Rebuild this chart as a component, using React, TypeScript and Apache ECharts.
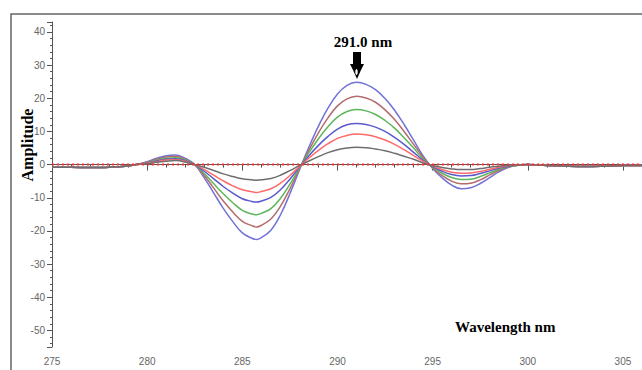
import React, { useEffect, useRef } from "react";
import * as echarts from "echarts";

// Wavelength grid (nm)
const wavelengths = [
  275, 276, 277, 278, 279,
  279.5, 280, 280.5, 281, 281.5, 282, 282.5,
  283, 283.5, 284, 284.5, 285, 285.5, 285.75, 286, 286.5, 287, 287.5, 288,
  288.5, 289, 289.5, 290, 290.5, 291, 291.5, 292, 292.5, 293, 293.5, 294, 294.5,
  295, 295.5, 296, 296.5, 297, 297.5, 298, 298.5, 299, 299.5, 300,
  301, 302, 303, 304, 305, 306,
];

// Flat tails shared by all spectra
const tailLeft = [-0.8, -0.8, -0.9, -0.8, -0.4];
const tailRight = [-0.3, -0.5, -0.6, -0.5, -0.3, -0.3];

// Middle part (279.5 .. 300 nm) of each spectrum
const blueOuterMid = [
  0.1, 0.9, 1.9, 2.7, 2.9, 1.9, 0,
  -4, -8.6, -13.2, -17.2, -20.6, -22.2, -22.6, -22.0, -19.8, -15.2, -8.8, -1.6,
  5.3, 11.6, 17, 21.3, 23.9, 24.8, 24.2, 22.6, 19.9, 16.4, 12.1, 7.4, 2.6,
  -1.2, -4, -6.2, -7.3, -7, -5.7, -3.9, -2.1, -0.8, -0.2, 0,
];
const brownMid = [
  0.1, 0.7, 1.6, 2.3, 2.5, 1.6, 0,
  -3.3, -7.1, -11.0, -14.3, -17.1, -18.4, -18.8, -18.3, -16.4, -12.6, -7.3, -1.3,
  4.4, 9.6, 14.1, 17.7, 19.8, 20.6, 20.1, 18.8, 16.5, 13.6, 10.0, 6.1, 2.2,
  -1.0, -3.3, -5.0, -5.8, -5.6, -4.6, -3.1, -1.7, -0.7, -0.2, 0,
];
const greenMid = [
  0.1, 0.6, 1.3, 1.9, 2.1, 1.4, 0,
  -2.7, -5.8, -8.8, -11.5, -13.8, -14.9, -15.1, -14.7, -13.3, -10.2, -5.9, -1.1,
  3.6, 7.8, 11.4, 14.3, 16.0, 16.6, 16.2, 15.1, 13.3, 11.0, 8.1, 5.0, 1.7,
  -0.8, -2.6, -3.9, -4.5, -4.4, -3.6, -2.5, -1.4, -0.6, -0.2, 0,
];
const blueInnerMid = [
  0.1, 0.5, 1.1, 1.6, 1.8, 1.2, 0,
  -2.0, -4.3, -6.6, -8.6, -10.3, -11.1, -11.3, -11.0, -9.9, -7.6, -4.4, -0.8,
  2.7, 5.8, 8.5, 10.7, 12.0, 12.4, 12.1, 11.3, 10.0, 8.2, 6.1, 3.7, 1.3,
  -0.6, -2.0, -3.0, -3.4, -3.3, -2.7, -1.9, -1.0, -0.5, -0.1, 0,
];
const redMid = [
  0.1, 0.4, 0.9, 1.4, 1.5, 1.0, 0,
  -1.5, -3.2, -4.9, -6.4, -7.6, -8.2, -8.4, -8.1, -7.3, -5.6, -3.3, -0.6,
  2.0, 4.3, 6.3, 7.9, 8.8, 9.2, 9.0, 8.4, 7.4, 6.1, 4.5, 2.7, 1.0,
  -0.4, -1.5, -2.3, -2.6, -2.5, -2.1, -1.4, -0.8, -0.3, -0.1, 0,
];
const grayMid = [
  0.1, 0.3, 0.7, 1.0, 1.2, 0.8, 0,
  -0.8, -1.8, -2.8, -3.6, -4.3, -4.6, -4.7, -4.6, -4.2, -3.2, -1.8, -0.3,
  1.1, 2.4, 3.6, 4.5, 5.0, 5.2, 5.1, 4.7, 4.2, 3.4, 2.5, 1.6, 0.5,
  -0.3, -0.9, -1.3, -1.5, -1.5, -1.2, -0.8, -0.5, -0.2, -0.1, 0,
];

const seriesMids = [blueOuterMid, brownMid, greenMid, blueInnerMid, redMid, grayMid];
const seriesColors = ["#7272d8", "#b46c6c", "#5cb65c", "#5a5acc", "#ff6a6a", "#6e6e6e"];

const xTickMin = 275;
const xTickMax = 306;
const yMin = -55;
const yMax = 43;

export default function App() {
  const ref = useRef<HTMLDivElement>(null);
  useEffect(() => {
    if (!ref.current) return;
    const chart = echarts.init(ref.current, undefined, { renderer: "svg" });
    const lineSeries = seriesMids.map((mid, i) => {
      const vals = [...tailLeft, ...mid, ...tailRight];
      return {
        type: "line",
        name: "s" + i,
        data: wavelengths.map((w, j) => [w, vals[j]]),
        smooth: 0.4,
        symbol: "none",
        lineStyle: { color: seriesColors[i], width: 1.5 },
        z: 2 + i,
      };
    });
    const axisColor = "#555";
    chart.setOption({
      animation: false,
      backgroundColor: "#ffffff",
      grid: { left: 52, top: 22, width: 590, height: 325, containLabel: false },
      xAxis: {
        type: "value",
        min: xTickMin,
        max: xTickMax,
        interval: 5,
        axisLine: { lineStyle: { color: axisColor, width: 1 } },
        axisTick: { length: 6, lineStyle: { color: axisColor } },
        minorTick: { show: true, splitNumber: 5, length: 3, lineStyle: { color: axisColor } },
        splitLine: { show: false },
        axisLabel: {
          color: "#666",
          fontSize: 10,
          fontFamily: "Liberation Sans, Arial, sans-serif",
          margin: 9,
          showMaxLabel: false,
        },
      },
      yAxis: {
        type: "value",
        min: yMin,
        max: yMax,
        splitNumber: 10,
        axisLine: { show: true, lineStyle: { color: axisColor, width: 1 } },
        axisTick: { show: true, length: 5, lineStyle: { color: axisColor } },
        minorTick: { show: true, splitNumber: 5, length: 2, lineStyle: { color: axisColor } },
        splitLine: { show: false },
        axisLabel: {
          color: "#666",
          fontSize: 10,
          fontFamily: "Liberation Sans, Arial, sans-serif",
          margin: 7,
          showMinLabel: false,
          showMaxLabel: false,
        },
      },
      series: [
        ...lineSeries,
        {
          type: "line",
          name: "zero",
          data: [[xTickMin, 0], [xTickMax, 0]],
          symbol: "none",
          lineStyle: { color: "#ff2a2a", width: 2, type: [2, 3] },
          z: 10,
        },
      ],
      graphic: [
        {
          type: "rect",
          shape: { x: 11, y: 14, width: 700, height: 420 },
          style: { fill: "none", stroke: "#666", lineWidth: 1.5 },
          silent: true,
        },
        {
          type: "text",
          x: 27,
          y: 145,
          rotation: Math.PI / 2,
          style: {
            text: "Amplitude",
            fill: "#000",
            font: "bold 16px 'Liberation Serif', 'Times New Roman', serif",
            align: "center",
            verticalAlign: "middle",
          },
        },
        {
          type: "text",
          x: 363,
          y: 42,
          style: {
            text: "291.0 nm",
            fill: "#000",
            font: "bold 15px 'Liberation Serif', 'Times New Roman', serif",
            align: "center",
            verticalAlign: "middle",
          },
        },
        {
          type: "rect",
          shape: { x: 353, y: 52, width: 8, height: 13 },
          style: { fill: "#000" },
        },
        {
          type: "polygon",
          shape: { points: [[350, 64], [364, 64], [361, 70], [357, 79], [353, 70]] },
          style: { fill: "#000" },
        },
        {
          type: "ellipse",
          shape: { cx: 356.5, cy: 72, rx: 1.2, ry: 3 },
          style: { fill: "#fff" },
        },
        {
          type: "text",
          x: 455,
          y: 327,
          style: {
            text: "Wavelength nm",
            fill: "#000",
            font: "bold 15px 'Liberation Serif', 'Times New Roman', serif",
            align: "left",
            verticalAlign: "middle",
          },
        },
      ],
    });
    return () => chart.dispose();
  }, []);
  return (
    <div
      ref={ref}
      style={{ position: "fixed", left: 0, top: 0, width: 642, height: 370, background: "#fff" }}
    />
  );
}
